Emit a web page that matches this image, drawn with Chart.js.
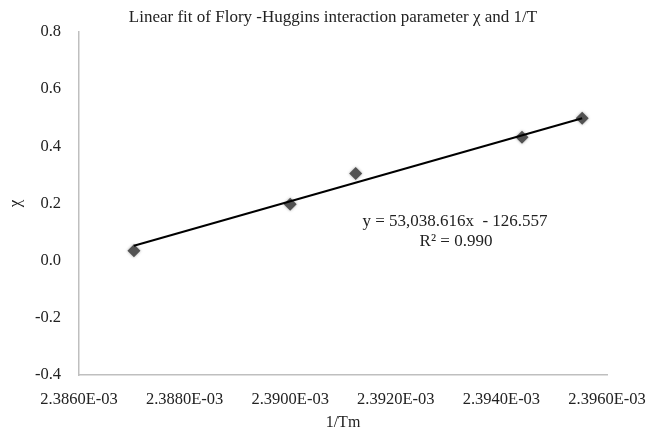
<!DOCTYPE html>
<html>
<head>
<meta charset="utf-8">
<script src="https://cdn.jsdelivr.net/npm/chart.js@4.4.0/dist/chart.umd.min.js"></script>
<style>
    html, body { margin: 0; padding: 0; background: #fff; }
    #wrap { width: 648px; height: 438px; }
</style>
</head>
<body>
<div id="wrap"><canvas id="grafico" width="648" height="438"></canvas></div>
<script>
// dados
const invTm = [0.00238704, 0.00239000, 0.00239124, 0.00239439, 0.00239553];
const chi = [0.035, 0.197, 0.305, 0.432, 0.498];

// linha de tendencia (extremos)
const fitX = [0.00238704, 0.00239553];
const fitY = [0.052, 0.498];

const xTicks = [0.002386, 0.002388, 0.002390, 0.002392, 0.002394, 0.002396];
const yTicks = [-0.4, -0.2, 0.0, 0.2, 0.4, 0.6, 0.8];

const titulo = 'Linear fit of Flory -Huggins interaction parameter \u03c7 and 1/T';
const equacao = 'y = 53,038.616x  - 126.557';
const r2 = 'R\u00b2 = 0.990';

const fonte = '"Liberation Serif", "Times New Roman", serif';

const textos = {
    id: 'textos',
    beforeDatasetDraw(chart, args) {
        if (args.index === 0) {
            chart.ctx.save();
            chart.ctx.shadowColor = 'rgba(0,0,0,0.35)';
            chart.ctx.shadowBlur = 3;
        }
    },
    afterDatasetDraw(chart, args) {
        if (args.index === 0) chart.ctx.restore();
    },
    afterDraw(chart) {
        const ctx = chart.ctx;
        ctx.save();
        ctx.fillStyle = '#222';
        ctx.textAlign = 'center';
        ctx.textBaseline = 'middle';
        ctx.font = '17px ' + fonte;
        ctx.fillText(titulo, 333, 18);
        ctx.fillText(equacao, 455, 222);
        ctx.fillText(r2, 456, 242);
        ctx.restore();
    }
};

const ctx = document.getElementById('grafico').getContext('2d');
const chart = new Chart(ctx, {
    type: 'scatter',
    data: {
        datasets: [{
            label: 'chi',
            data: invTm.map((x, i) => ({x: x, y: chi[i]})),
            pointStyle: 'rectRot',
            pointRadius: 6.5,
            backgroundColor: '#525252',
            borderColor: '#525252',
            borderWidth: 0,
            order: 1
        }, {
            label: 'fit',
            type: 'line',
            data: fitX.map((x, i) => ({x: x, y: fitY[i]})),
            borderColor: '#000',
            borderWidth: 2,
            pointRadius: 0,
            fill: false,
            order: 0
        }]
    },
    options: {
        responsive: false,
        animation: false,
        layout: {
            padding: {top: 32, right: 41, left: 0, bottom: 0}
        },
        plugins: {
            legend: {display: false},
            tooltip: {enabled: false}
        },
        scales: {
            x: {
                type: 'linear',
                min: 0.002386,
                max: 0.002396,
                afterBuildTicks: (scale) => { scale.ticks = xTicks.map(v => ({value: v})); },
                afterFit: (scale) => {
                    scale.height = 63;
                    scale.paddingLeft = 0;
                    scale.paddingRight = 0;
                },
                grid: {display: false},
                border: {display: true, color: '#bfbfbf', width: 1.5},
                ticks: {
                    autoSkip: false,
                    maxRotation: 0,
                    padding: 7,
                    color: '#222',
                    font: {family: fonte, size: 16.5},
                    callback: (v) => (v * 1000).toFixed(4) + 'E-03'
                },
                title: {
                    display: true,
                    text: '1/Tm',
                    color: '#222',
                    font: {family: fonte, size: 16},
                    padding: {top: 0, bottom: 6}
                }
            },
            y: {
                min: -0.4,
                max: 0.8,
                afterBuildTicks: (scale) => { scale.ticks = yTicks.map(v => ({value: v})); },
                afterFit: (scale) => { scale.width = 79; },
                grid: {display: false},
                border: {display: true, color: '#bfbfbf', width: 1.5},
                ticks: {
                    padding: 10,
                    color: '#222',
                    font: {family: fonte, size: 16.5},
                    callback: (v) => v.toFixed(1)
                },
                title: {
                    display: true,
                    text: '\u03c7',
                    color: '#222',
                    font: {family: fonte, size: 17},
                    padding: {top: 5, bottom: 0}
                }
            }
        }
    },
    plugins: [textos]
});
</script>
</body>
</html>
